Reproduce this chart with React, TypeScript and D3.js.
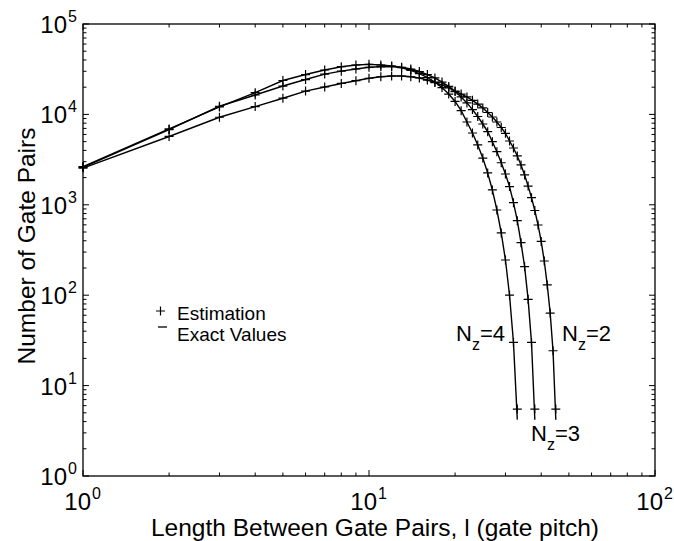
import React from 'react';
import * as d3 from 'd3';

// gate-pair length, in gate pitches
const lengths = [
  1, 2, 3, 4, 5, 6, 7, 8, 9, 10, 11, 12, 13, 14, 15, 16, 17, 18, 19, 20, 21, 22, 23,
  24, 25, 26, 27, 28, 29, 30, 31, 32, 33, 34, 35, 36, 37, 38, 39, 40, 41, 42, 43, 44, 45,
];

// estimated number of gate pairs, N_z = 4, 3, 2
const estNz4 = [
  2650, 6900, 12100, 17400, 23700, 27600, 31000, 33700, 35200, 35800, 35200, 34300, 32800,
  30700, 28300, 25600, 22800, 19800, 16800, 13900, 11000, 8240, 6230, 4590, 3290, 2250,
  1460, 876, 488, 245, 100, 30, 5.5,
];
const estNz3 = [
  2600, 6800, 12300, 16400, 20600, 24300, 27900, 30100, 31800, 33200, 33700, 33900, 33200,
  31800, 29800, 27600, 25300, 22800, 20400, 17900, 15600, 13400, 11300, 9480, 7830, 6440,
  4990, 3870, 2920, 2190, 1590, 1055, 667, 381, 207, 90, 30, 5.5,
];
const estNz2 = [
  2550, 5700, 9300, 12200, 15100, 18100, 20100, 22000, 23600, 25100, 26100, 26600, 26600,
  26100, 25300, 24000, 22500, 21200, 19600, 18100, 16800, 15600, 14300, 13000, 11800, 10500,
  9360, 8240, 7160, 6180, 5080, 4250, 3470, 2760, 2140, 1610, 1200, 865, 598, 393, 239, 130,
  63.5, 24.3, 5.5,
];
// exact values at the last length (the rest follow the estimate)
const exactLast = { 4: 4.2, 3: 4.2, 2: 4.2 };

const xDecades = [0, 1, 2];
const yDecades = [0, 1, 2, 3, 4, 5];
const seriesLabels = ['4', '3', '2'];

const W = 674;
const H = 541;
const left = 83;
const right = 655;
const top = 24;
const bottom = 476;
const font = '"Liberation Sans", Arial, Helvetica, sans-serif';

const x = d3.scaleLog().domain([1, 100]).range([left, right]);
const y = d3.scaleLog().domain([1, 1e5]).range([bottom, top]);

function logTicks(decades: number[]) {
  const out: { v: number; major: boolean }[] = [];
  decades.forEach((d, i) => {
    if (i === decades.length - 1) {
      out.push({ v: Math.pow(10, d), major: true });
      return;
    }
    for (let k = 1; k <= 9; k++) out.push({ v: k * Math.pow(10, d), major: k === 1 });
  });
  return out;
}

export default function App() {
  const series = [
    { nz: 4, est: estNz4 },
    { nz: 3, est: estNz3 },
    { nz: 2, est: estNz2 },
  ];

  const line = d3
    .line<[number, number]>()
    .x((d) => x(d[0]))
    .y((d) => y(d[1]));

  const xt = logTicks(xDecades);
  const yt = logTicks(yDecades);

  return (
    <svg
      width={W}
      height={H}
      style={{ position: 'absolute', left: 0, top: 0, background: '#fff' }}
      fontFamily={font}
    >
      <rect x={0} y={0} width={W} height={H} fill="#fff" />

      {/* ticks, mirrored on all four sides */}
      {xt.map((t, i) => {
        const len = t.major ? 6 : 3.5;
        const px = x(t.v);
        return (
          <g key={'xt' + i} stroke="#000" strokeWidth={1}>
            <line x1={px} x2={px} y1={bottom} y2={bottom - len} />
            <line x1={px} x2={px} y1={top} y2={top + len} />
          </g>
        );
      })}
      {yt.map((t, i) => {
        const len = t.major ? 6 : 3.5;
        const py = y(t.v);
        return (
          <g key={'yt' + i} stroke="#000" strokeWidth={1}>
            <line x1={left} x2={left + len} y1={py} y2={py} />
            <line x1={right} x2={right - len} y1={py} y2={py} />
          </g>
        );
      })}

      <rect
        x={left}
        y={top}
        width={right - left}
        height={bottom - top}
        fill="none"
        stroke="#000"
        strokeWidth={1.3}
      />

      {/* tick labels */}
      {yDecades.map((d) => (
        <g key={'yl' + d}>
          <text x={67} y={y(Math.pow(10, d)) + 9} fontSize={24} textAnchor="end">
            10
          </text>
          <text x={68} y={y(Math.pow(10, d)) - 2} fontSize={16}>
            {d}
          </text>
        </g>
      ))}
      {xDecades.map((d) => (
        <g key={'xl' + d}>
          <text x={x(Math.pow(10, d)) + 8} y={510} fontSize={24} textAnchor="end">
            10
          </text>
          <text x={x(Math.pow(10, d)) + 9} y={499} fontSize={16}>
            {d}
          </text>
        </g>
      ))}

      {/* axis titles */}
      <text x={(left + right) / 2 + 6} y={536} fontSize={24.5} textAnchor="middle">
        Length Between Gate Pairs, l (gate pitch)
      </text>
      <text
        transform={`translate(35, ${(top + bottom) / 2 - 4}) rotate(-90)`}
        fontSize={24.5}
        textAnchor="middle"
      >
        Number of Gate Pairs
      </text>

      {/* exact values as lines, estimates as + markers */}
      {series.map((s) => {
        const pts: [number, number][] = s.est.map((v, i) => [lengths[i], v]);
        const exact: [number, number][] = pts.map((p, i) =>
          i === pts.length - 1 ? [p[0], exactLast[s.nz as 4 | 3 | 2]] : p
        );
        return (
          <g key={'s' + s.nz}>
            <path d={line(exact) || ''} fill="none" stroke="#000" strokeWidth={1.4} />
            {pts.map((p, i) => {
              const cx = x(p[0]);
              const cy = y(p[1]);
              return (
                <path
                  key={i}
                  d={`M${cx - 4.5},${cy}H${cx + 4.5}M${cx},${cy - 4.5}V${cy + 4.5}`}
                  stroke="#000"
                  strokeWidth={1.2}
                />
              );
            })}
          </g>
        );
      })}

      {/* legend */}
      <path d="M156,311H165M160.5,306.5V315.5" stroke="#000" strokeWidth={1.2} />
      <text x={177} y={320} fontSize={19}>
        Estimation
      </text>
      <line x1={158} x2={167} y1={327} y2={327} stroke="#000" strokeWidth={1.3} />
      <text x={177} y={341} fontSize={19}>
        Exact Values
      </text>

      {/* curve labels */}
      {[
        { lab: seriesLabels[0], x: 456, y: 341 },
        { lab: seriesLabels[2], x: 562, y: 341 },
        { lab: seriesLabels[1], x: 531, y: 441 },
      ].map((t) => (
        <text key={'n' + t.lab} x={t.x} y={t.y} fontSize={22}>
          N
          <tspan fontSize={16} dy={9}>
            z
          </tspan>
          <tspan fontSize={22} dy={-9}>
            ={t.lab}
          </tspan>
        </text>
      ))}
    </svg>
  );
}
